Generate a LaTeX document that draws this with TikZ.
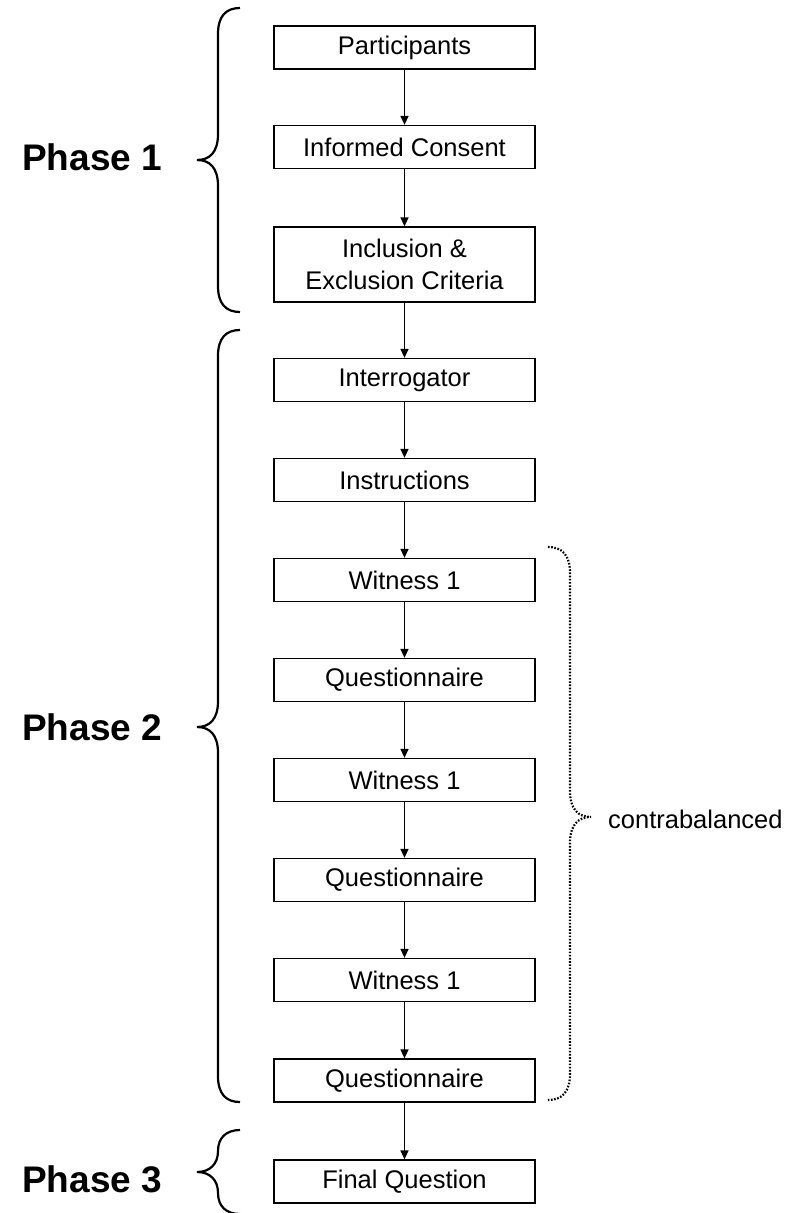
\documentclass[tikz,border=0pt]{standalone}
\usepackage{fontspec}
\setmainfont{Liberation Sans}
\usetikzlibrary{arrows.meta}

\begin{document}
\begin{tikzpicture}[x=1pt,y=-1pt,
  stage/.style={draw=custcol_black, line width=1.3pt, minimum width=261pt, minimum height=43pt,
    inner sep=0pt, align=center, font=\fontsize{25.5pt}{32pt}\selectfont},
  flow/.style={line width=1.5pt, -{Triangle[width=8pt,length=9pt]}},
  bracket/.style={line width=2.2pt, custcol_black},
  phase/.style={inner sep=0pt, anchor=base west, font=\fontsize{37pt}{37pt}\bfseries\selectfont}]
\useasboundingbox (0,0) rectangle (792,1213);
\definecolor{custcol_black}{RGB}{0, 0, 0}
\def\phasebrace#1#2#3#4{\draw [bracket] (240,#1) .. controls (226,#1) and (218,#1+8) .. (218,#1+#4)
  -- (218,#2-#4) .. controls (218,#2-8) and (210,#2) .. (197,#2)
  .. controls (210,#2) and (218,#2+8) .. (218,#2+#4)
  -- (218,#3-#4) .. controls (218,#3-8) and (226,#3) .. (240,#3);}
% flow boxes
\node[stage] (participants) at (404.5,47.5) {Participants};
\node[stage] (consent) at (404.5,147.0) {Informed Consent};
\node[stage, minimum height=75pt] (criteria) at (404.5,264.5) {Inclusion \&\\Exclusion Criteria};
\node[stage] (interrogator) at (404.5,380.0) {Interrogator};
\node[stage] (instructions) at (404.5,480.0) {Instructions};
\node[stage] (witnessA) at (404.5,580.0) {Witness 1};
\node[stage] (questA) at (404.5,680.0) {Questionnaire};
\node[stage] (witnessB) at (404.5,780.0) {Witness 1};
\node[stage] (questB) at (404.5,880.0) {Questionnaire};
\node[stage] (witnessC) at (404.5,980.0) {Witness 1};
\node[stage] (questC) at (404.5,1080.5) {Questionnaire};
\node[stage] (final) at (404.5,1181.5) {Final Question};
% arrows
\draw [flow] (participants) -- (consent);
\draw [flow] (consent) -- (criteria);
\draw [flow] (criteria) -- (interrogator);
\draw [flow] (interrogator) -- (instructions);
\draw [flow] (instructions) -- (witnessA);
\draw [flow] (witnessA) -- (questA);
\draw [flow] (questA) -- (witnessB);
\draw [flow] (witnessB) -- (questB);
\draw [flow] (questB) -- (witnessC);
\draw [flow] (witnessC) -- (questC);
\draw [flow] (questC) -- (final);
% phases
\phasebrace{8}{160}{312}{26}
\phasebrace{330}{727}{1102}{26}
\phasebrace{1130}{1172}{1214}{21}
\node[phase] (phaseA) at (22,170) {Phase 1};
\node[phase] (phaseB) at (22,740) {Phase 2};
\node[phase] (phaseC) at (22,1192) {Phase 3};
% contrabalanced
\draw [line width=2.2pt, dash pattern=on 1.6pt off 1.6pt, custcol_black] (548,547) .. controls (562,547) and (570,555) .. (570,573)
  -- (570,791) .. controls (570,809) and (578,817) .. (591,817)
  .. controls (578,817) and (570,825) .. (570,843)
  -- (570,1074) .. controls (570,1092) and (562,1100) .. (548,1100);
\node[inner sep=0pt, anchor=base west, font=\fontsize{25.5pt}{32pt}\selectfont] (balance) at (608,828) {contrabalanced};
\end{tikzpicture}
\end{document}
